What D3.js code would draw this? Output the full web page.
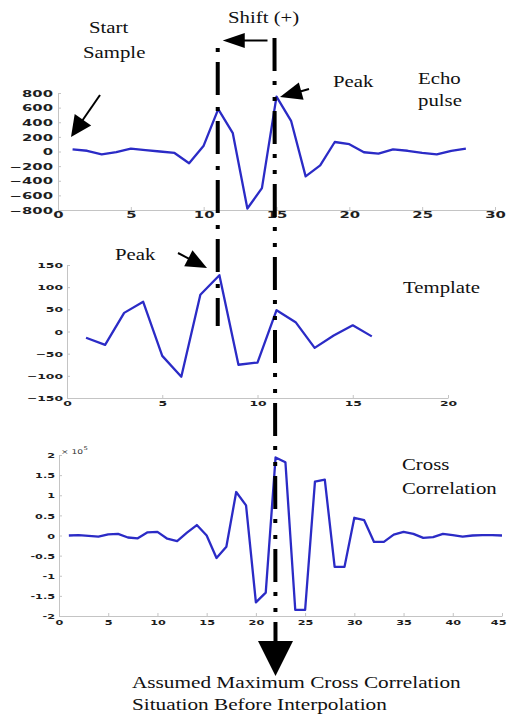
<!DOCTYPE html>
<html><head><meta charset="utf-8">
<script src="https://cdn.jsdelivr.net/npm/d3@7"></script>
<style>body{margin:0;background:#fff} svg{display:block}</style>
</head><body>
<script>
// ---------- data ----------
const echoPulse = [30,10,-40,-10,40,20,0,-20,-160,80,580,250,-780,-500,750,420,-340,-190,130,100,-10,-30,30,10,-20,-40,10,40];
const templateSig = [-14,-30,42,67,-55,-102,83,127,-75,-70,48,21,-37,-9,14,-11];
// cross correlation in units of 10^5
const crossCorr = [0,0.01,-0.01,-0.03,0.03,0.04,-0.05,-0.07,0.08,0.09,-0.08,-0.14,0.07,0.26,0.0,-0.56,-0.28,1.08,0.75,-1.66,-1.42,1.94,1.82,-1.85,-1.85,1.34,1.39,-0.78,-0.78,0.44,0.38,-0.16,-0.16,0.02,0.09,0.04,-0.06,-0.04,0.04,0.01,-0.03,0.0,0.01,0.01,0.0];

const echoXTicks = [0,5,10,15,20,25,30];
const echoYTicks = [-800,-600,-400,-200,0,200,400,600,800];
const tmplXTicks = [0,5,10,15,20];
const tmplYTicks = [-150,-100,-50,0,50,100,150];
const ccXTicks = [0,5,10,15,20,25,30,35,40,45];
const ccYTicks = [-2,-1.5,-1,-0.5,0,0.5,1,1.5,2];

const echoPeakIdx = 15;   // sample of echo peak
const shiftStartIdx = 11; // start sample line
const tmplPeakIdx = 8;
const ccPeakIdx = 22;

// ---------- setup ----------
const W = 507, H = 717;
const svg = d3.select("body").append("svg").attr("width", W).attr("height", H);
const serif = "'Liberation Serif','Times New Roman',serif";
const LINE = "#2b2bc6";

function panel(o) {
  const x = d3.scaleLinear().domain(o.xDomain).range(o.xRange);
  const y = d3.scaleLinear().domain(o.yDomain).range(o.yRange);
  const g = svg.append("g");
  const xa = g.append("g").attr("transform", `translate(0,${o.yRange[0]})`)
    .call(d3.axisBottom(x).tickValues(o.xTicks).tickSize(-3).tickSizeOuter(0).tickFormat(d3.format("d")));
  const ya = g.append("g").attr("transform", `translate(${o.xRange[0]},0)`)
    .call(d3.axisLeft(y).tickValues(o.yTicks).tickSize(-3).tickSizeOuter(0).tickFormat(o.yFmt || d3.format("d")));
  [xa, ya].forEach(a => {
    a.select(".domain").attr("stroke", "#c4c4c4").attr("stroke-width", 1);
    a.selectAll(".tick line").attr("stroke", "#c4c4c4");
    a.selectAll("text").attr("fill", "#1e1e1e").attr("font-family", "'DejaVu Sans',sans-serif")
      .attr("font-weight", "bold").attr("font-size", o.fs);
  });
  xa.selectAll("text").attr("y", o.xLabOff).attr("dy", "0.35em")
    .attr("transform", `scale(${o.sx},1)`);
  ya.selectAll("text").attr("x", -o.yLabOff / o.sx).attr("dy", "0.35em")
    .attr("transform", `scale(${o.sx},1)`);
  if (o.clampRight) {
    // keep the last tick label inside the page
    xa.selectAll(".tick").filter(d => d === o.xDomain[1]).select("text")
      .attr("text-anchor", "end").attr("x", (W - 1 - o.xRange[1]) / o.sx);
  }
  g.append("path").datum(o.values)
    .attr("fill", "none").attr("stroke", LINE).attr("stroke-width", 2.3)
    .attr("stroke-linejoin", "round")
    .attr("d", d3.line().x((d, i) => x(i + 1)).y(d => y(d)));
  return {x, y};
}

const pTop = panel({values: echoPulse, xDomain: [0, 30], xRange: [58, 495], yDomain: [-800, 800], yRange: [210, 93],
  xTicks: echoXTicks, yTicks: echoYTicks, fs: 9, sx: 1.65, xLabOff: 5, yLabOff: 5});
const pMid = panel({values: templateSig, xDomain: [0, 20], xRange: [67, 448], yDomain: [-150, 150], yRange: [398, 265],
  xTicks: tmplXTicks, yTicks: tmplYTicks, fs: 7.5, sx: 1.65, xLabOff: 5, yLabOff: 4});
const pBot = panel({values: crossCorr, xDomain: [0, 45], xRange: [59, 502], yDomain: [-2, 2], yRange: [616, 455],
  xTicks: ccXTicks, yTicks: ccYTicks, fs: 7.5, sx: 1.5, xLabOff: 6, yLabOff: 4, yFmt: d => String(d), clampRight: true});

// exponent label
const expG = svg.append("g").attr("transform", "translate(61,454) scale(1.4,1)")
  .attr("font-family", "'DejaVu Sans',sans-serif").attr("font-size", 6.5).attr("fill", "#333");
expG.append("text").text("× 10");
expG.append("text").attr("x", 16).attr("y", -4).attr("font-size", 5).text("5");

// ---------- annotations ----------
function label(txt, x, y, size, sx) {
  svg.append("text").attr("transform", `translate(${x},${y}) scale(${sx},1)`)
    .attr("font-family", serif).attr("font-size", size).attr("fill", "#111").text(txt);
}
function arrow(tail, tip, headLen, halfW, lw) {
  const dx = tip[0] - tail[0], dy = tip[1] - tail[1];
  const L = Math.hypot(dx, dy), ux = dx / L, uy = dy / L;
  const bx = tip[0] - ux * headLen, by = tip[1] - uy * headLen;
  svg.append("line").attr("x1", tail[0]).attr("y1", tail[1]).attr("x2", bx + ux).attr("y2", by + uy)
    .attr("stroke", "#000").attr("stroke-width", lw);
  svg.append("polygon").attr("fill", "#000")
    .attr("points", [[tip[0], tip[1]], [bx - uy * halfW, by + ux * halfW], [bx + uy * halfW, by - ux * halfW]].map(p => p.join(",")).join(" "));
}

// vertical reference lines
const x1 = pTop.x(shiftStartIdx) - 0.5;
const x2 = pTop.x(echoPeakIdx) - 2;
svg.append("line").attr("x1", x1).attr("x2", x1).attr("y1", 48).attr("y2", 326)
  .attr("stroke", "#000").attr("stroke-width", 4).attr("stroke-dasharray", "4,10,33,12");
svg.append("line").attr("x1", x2).attr("x2", x2 + 1).attr("y1", 38).attr("y2", 643)
  .attr("stroke", "#000").attr("stroke-width", 4).attr("stroke-dasharray", "4,12,4,10,33,10")
  .attr("stroke-dashoffset", 30);
// big downward arrow head
svg.append("polygon").attr("fill", "#000")
  .attr("points", `${x2 + 1},676 ${x2 - 16.5},641 ${x2 + 18.5},641`);

// shift arrow
arrow([x2 - 7, 40.5], [x1 + 5, 40.5], 22, 7.5, 2);
// start sample arrow
arrow([100, 95], [71, 137], 21, 10, 2);
// echo peak arrow
arrow([309, 89], [280, 97], 22, 9, 2);
// template peak arrow
arrow([178, 253], [207, 268], 21, 9, 2);

label("Start", 89, 33, 16, 1.3);
label("Sample", 83, 58, 16, 1.3);
label("Shift (+)", 228, 23, 16, 1.3);
label("Peak", 333, 87, 16, 1.3);
label("Echo", 418, 84, 16, 1.3);
label("pulse", 418, 106, 16, 1.3);
label("Peak", 115, 260, 16, 1.3);
label("Template", 403, 293, 16, 1.3);
label("Cross", 402, 470, 16, 1.3);
label("Correlation", 402, 494, 16, 1.3);
label("Assumed Maximum Cross Correlation", 132, 688, 17, 1.25);
label("Situation Before Interpolation", 132, 710, 17, 1.25);
</script>
</body></html>
